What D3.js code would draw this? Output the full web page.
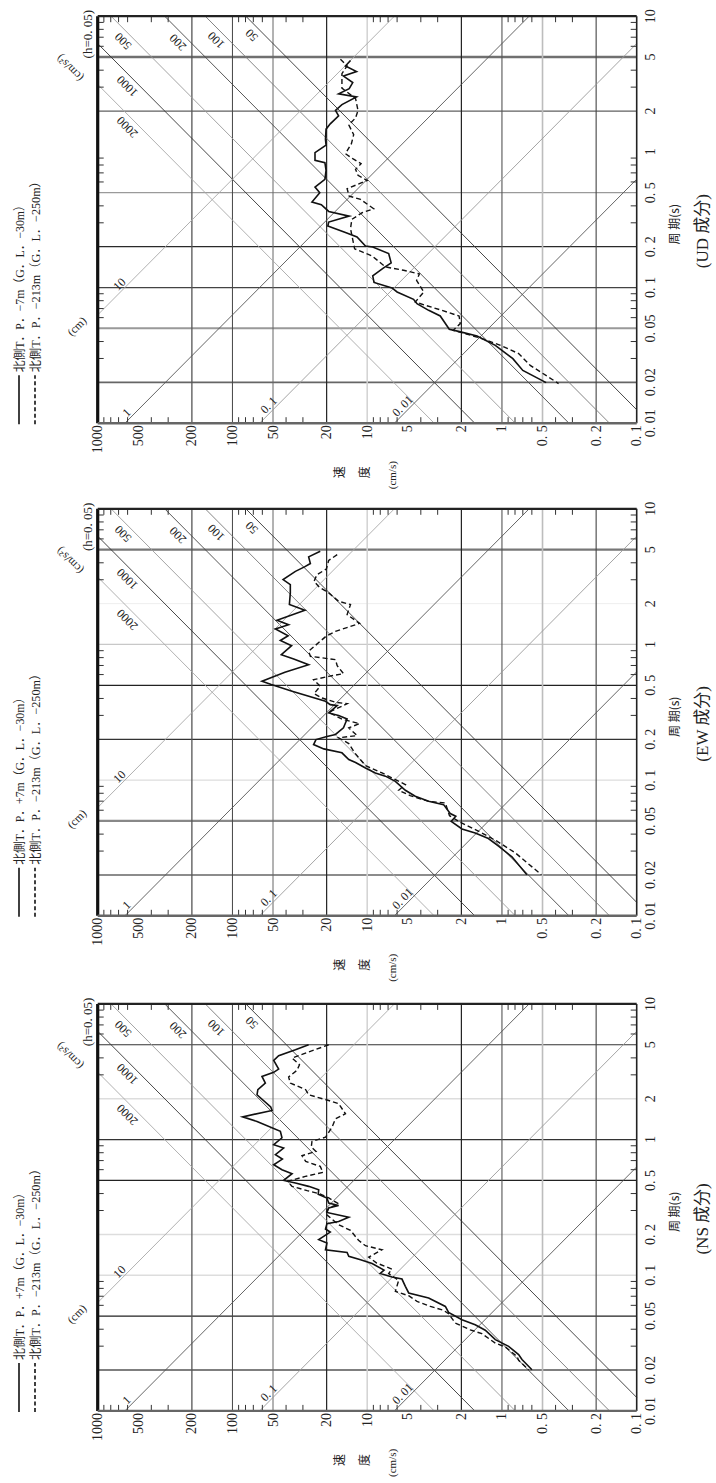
<!DOCTYPE html>
<html lang="ja">
<head>
<meta charset="utf-8">
<title>速度応答スペクトル</title>
<script src="https://cdn.jsdelivr.net/npm/d3@7/dist/d3.min.js"></script>
<style>
  html, body { margin: 0; padding: 0; background: #fff; }
  svg { display: block; }
  text { font-family: "Liberation Serif", "DejaVu Serif", "Noto Sans CJK JP", serif; fill: #222; }
  .cjk { font-family: "Noto Sans CJK JP", sans-serif; }
</style>
</head>
<body>
<svg id="chart" width="716" height="1483"></svg>
<script>
// ---------------- axis values ----------------
const periodTicks = [0.01, 0.02, 0.05, 0.1, 0.2, 0.5, 1, 2, 5, 10];
const periodTickLabels = ["0. 01", "0. 02", "0. 05", "0. 1", "0. 2", "0. 5", "1", "2", "5", "10"];
const velocityTicks = [1000, 500, 200, 100, 50, 20, 10, 5, 2, 1, 0.5, 0.2, 0.1];
const velocityTickLabels = ["1000", "500", "200", "100", "50", "20", "10", "5", "2", "1", "0. 5", "0. 2", "0. 1"];
const periodGrid = [5, 2, 1, 0.5, 0.2, 0.1, 0.05, 0.02];
const velocityGrid = [200, 100, 50, 20, 10, 2, 1, 0.5, 0.2];
const minorMultipliers = [3, 4, 6, 7, 8, 9];
const accelValues = [2000, 1000, 500, 200, 100, 50];          // cm/s^2
const accelLabels = ["2000", "1000", "500", "200", "100", "50"];
const dispValues = [10, 1, 0.1, 0.01];                       // cm
const dispLabels = ["10", "1", "0. 1", "0. 01"];

// ---------------- spectra (period s, velocity cm/s) ----------------
// NS component
const nsSolidPeriod = [5.00,4.59,4.15,3.83,3.31,3.13,2.92,2.61,2.33,2.14,1.74,1.64,1.47,1.36,1.15,1.03,0.916,0.866,0.773,0.718,0.652,0.599,0.560,0.500,0.478,0.452,0.427,0.396,0.371,0.340,0.327,0.313,0.290,0.268,0.249,0.240,0.219,0.208,0.183,0.173,0.154,0.147,0.138,0.130,0.122,0.109,0.103,0.097,0.0937,0.0828,0.0740,0.0679,0.0589,0.0532,0.0470,0.0432,0.0393,0.0335,0.0299,0.0260,0.0239,0.0201];
const nsSolidVel = [27.2,34.1,45.4,49.4,45.4,49.4,60.4,57.0,64.8,65.7,52.0,50.8,84,65.7,44.1,42.9,49.4,41.7,48.0,42.6,49.4,42.9,36.1,41.7,34.1,27.2,22.9,23.1,19.9,19.3,16.3,19.3,19.9,13.7,16.3,19.9,20.4,18.8,22.9,19.9,20.4,14.1,13.7,11.2,9.2,7.5,8.0,6.55,5.52,5.21,4.92,3.50,2.63,2.49,1.98,1.58,1.33,1.12,0.892,0.752,0.710,0.599];
const nsDashPeriod = [5.00,3.99,3.56,3.24,2.89,2.61,2.33,2.14,1.94,1.84,1.55,1.42,1.24,1.04,0.969,0.881,0.818,0.760,0.690,0.634,0.573,0.535,0.492,0.452,0.420,0.399,0.371,0.336,0.313,0.284,0.236,0.214,0.181,0.165,0.154,0.136,0.123,0.111,0.103,0.0916,0.0760,0.0706,0.0642,0.0589,0.0551,0.0520,0.0444,0.0396,0.0371,0.0316,0.0296,0.0252,0.0236,0.0201];
const nsDashVel = [19.3,36.1,31.8,33.2,38.3,37.2,28.6,27.2,19.3,16.3,14.5,17.2,18.2,20.4,25.7,26.0,24.0,30.5,28.6,22.3,21.3,28.8,39.0,36.1,27.9,22.6,19.3,16.3,19.3,20.4,16.3,13.3,11.6,10.3,7.76,9.75,8.5,6.55,6.93,5.84,6.18,4.92,4.27,3.40,2.71,2.49,2.22,1.72,1.41,1.12,0.944,0.774,0.752,0.634];

// EW component
const ewSolidPeriod = [4.86,4.42,3.95,3.73,3.46,3.01,2.76,2.40,1.97,1.79,1.51,1.40,1.30,1.16,1.07,0.98,0.841,0.782,0.710,0.623,0.535,0.506,0.452,0.381,0.360,0.354,0.313,0.299,0.282,0.243,0.217,0.210,0.199,0.183,0.170,0.159,0.142,0.135,0.123,0.113,0.107,0.098,0.0842,0.0760,0.0698,0.0660,0.0567,0.0542,0.0497,0.0437,0.0408,0.0371,0.0326,0.0272,0.0201];
const ewSolidVel = [22.3,27.2,26.4,29.2,34.1,42.1,37.2,37.2,37.8,29.0,46.7,38.3,48.0,38.6,44.1,36.4,43.4,35.1,27.2,40.8,60.4,51.5,36.1,20.4,18.8,16.7,19.3,16.3,14.1,15.0,17.2,19.9,24.0,25.0,21.0,15.4,13.7,12.2,10.3,8.7,7.33,6.18,5.21,4.40,3.50,2.71,2.42,2.20,2.38,1.98,1.58,1.26,1.06,0.843,0.653];
const ewDashPeriod = [4.59,4.17,3.60,3.27,2.92,2.65,2.40,2.08,1.97,1.66,1.43,1.25,1.15,0.891,0.818,0.773,0.698,0.610,0.582,0.550,0.492,0.434,0.403,0.375,0.366,0.316,0.282,0.261,0.243,0.213,0.205,0.186,0.159,0.128,0.113,0.0927,0.0842,0.0769,0.0698,0.0679,0.0547,0.0489,0.0408,0.0355,0.0291,0.0201];
const ewDashVel = [16.7,19.3,20.1,23.6,24.8,22.7,19.3,16.3,13.3,14.1,11.4,17.2,20.2,27.2,26.4,17.2,16.7,15.0,19.3,25.0,22.3,24.8,21.6,17.2,14.1,19.3,15.4,11.4,13.7,11.9,16.3,13.7,12.4,10.3,7.76,5.21,5.84,4.80,3.50,2.63,2.45,2.04,1.41,1.09,0.796,0.51];

// UD component
const udSolidPeriod = [4.72,4.30,3.91,3.62,3.24,2.92,2.68,2.54,2.23,2.02,1.84,1.61,1.47,1.24,1.12,0.986,0.866,0.832,0.731,0.627,0.550,0.500,0.427,0.408,0.364,0.336,0.304,0.284,0.254,0.236,0.202,0.199,0.178,0.152,0.139,0.122,0.109,0.0993,0.0927,0.0818,0.0760,0.0679,0.0617,0.0492,0.0475,0.0439,0.0375,0.0299,0.0245,0.0199];
const udSolidVel = [13.3,14.5,12.0,15.0,12.8,13.6,16.3,12.0,15.4,17.2,16.3,18.8,20.2,20.4,20.2,24.4,24.4,20.6,20.2,20.6,24.4,22.5,25.7,21.9,19.3,13.6,19.3,19.6,14.5,11.9,10.3,9.1,6.93,6.64,7.6,9.1,8.9,6.55,6.0,4.53,4.27,3.50,2.87,2.46,2.10,1.53,1.12,0.83,0.70,0.47];
const udDashPeriod = [4.81,4.30,3.77,2.95,2.47,2.02,1.78,1.58,1.34,1.15,0.969,0.891,0.818,0.743,0.671,0.616,0.535,0.472,0.446,0.381,0.356,0.318,0.272,0.193,0.183,0.171,0.142,0.134,0.126,0.113,0.0927,0.0782,0.0740,0.0679,0.0617,0.0542,0.0484,0.0450,0.0420,0.0380,0.0326,0.0267,0.0196];
const udDashVel = [15.8,14.1,15.4,15.4,12.2,11.7,12.2,13.7,12.6,13.1,14.5,12.8,11.1,12.2,11.7,10.0,14.1,13.6,11.2,8.95,10.9,13.0,13.3,12.4,10.9,9.2,7.33,5.37,4.1,4.3,3.80,4.40,3.70,2.79,2.08,2.04,2.30,1.77,1.41,1.06,0.752,0.617,0.38];

// legend texts
const legendNS = ["北側T．P．+7m（G．L．−30m）", "北側T．P．−213m（G．L．−250m）"];
const legendEW = ["北側T．P．+7m（G．L．−30m）", "北側T．P．−213m（G．L．−250m）"];
const legendUD = ["北側T．P．−7m（G．L．−30m）", "北側T．P．−213m（G．L．−250m）"];

// ---------------- layout & styles ----------------
const W = 407, H = 539;          // period span, velocity span (unrotated frame)
const LEFT = 97.7;               // screen x of the 1000 cm/s edge

const px = d3.scaleLog().domain([0.01, 10]).range([0, W]);
const pv = d3.scaleLog().domain([1000, 0.1]).range([0, H]);

const velocityGridStyle = {
  200: ["#555", 1.3], 100: ["#444", 1.0], 50: ["#666", 1.0], 20: ["#222", 1.2],
  10: ["#d2d2d2", 1.5], 2: ["#222", 1.2], 1: ["#555", 1.1], 0.5: ["#bdbdbd", 1.6], 0.2: ["#444", 1.1]
};
const accelStyle = { 2000: "#a8a8a8", 1000: "#333", 500: "#9a9a9a", 200: "#444", 100: "#777", 50: "#333" };
const dispStyle = { 10: "#a8a8a8", 1: "#555", 0.1: "#9a9a9a", 0.01: "#555" };
// label anchors along each line (period at which the label sits)
const accelLabelAt = { 2000: 1.52, 1000: 3.04, 500: 6.53, 200: 6.4, 100: 6.66, 50: 7.24 };
const dispLabelAt = { 10: 0.106, 1: 0.012, 0.1: 0.0136, 0.01: 0.0134 };

const panels = [
  {
    title: "(UD 成分)", bottom: 423.2, legend: legendUD,
    solid: [udSolidPeriod, udSolidVel], dashed: [udDashPeriod, udDashVel],
    periodGridStyle: [["#707070", 2.4], ["#606060", 1.3], null, ["#9a9a9a", 1.3], ["#2a2a2a", 1.2],
                      ["#444", 1.2], ["#999", 2.0], ["#666", 1.6]]
  },
  {
    title: "(EW 成分)", bottom: 915.8, legend: legendEW,
    solid: [ewSolidPeriod, ewSolidVel], dashed: [ewDashPeriod, ewDashVel],
    periodGridStyle: [["#777", 2.4], ["#eeeeee", 1.0], ["#c8c8c8", 1.2], ["#222", 1.2], ["#333", 1.2],
                      ["#dddddd", 1.2], ["#888", 2.2], ["#666", 1.6]]
  },
  {
    title: "(NS 成分)", bottom: 1410.9, legend: legendNS,
    solid: [nsSolidPeriod, nsSolidVel], dashed: [nsDashPeriod, nsDashVel],
    periodGridStyle: [["#333", 1.2], ["#dddddd", 1.5], ["#333", 1.2], ["#222", 1.3], ["#dddddd", 1.5],
                      ["#dddddd", 1.5], ["#222", 1.2], ["#555", 1.5]]
  }
];

const svg = d3.select("#chart");
svg.append("rect").attr("width", 716).attr("height", 1483).attr("fill", "#fff");

const curve = d3.line().x(d => px(d[0])).y(d => pv(d[1]));
const angleAccel = Math.atan2(pv(10) - pv(1), px(10) - px(1)) * 180 / Math.PI;   // v rises with T
const angleDisp = Math.atan2(pv(0.1) - pv(1), px(10) - px(1)) * 180 / Math.PI;   // v falls with T

function accelSegment(a) {        // Sv = Sa * T / (2π)
  const k = a / (2 * Math.PI);
  const t0 = Math.max(0.01, 0.1 / k), t1 = Math.min(10, 1000 / k);
  return [[t0, k * t0], [t1, k * t1]];
}
function dispSegment(d) {         // Sv = 2π * Sd / T
  const k = 2 * Math.PI * d;
  const t0 = Math.max(0.01, k / 1000), t1 = Math.min(10, k / 0.1);
  return [[t0, k / t0], [t1, k / t1]];
}

const minorPeriods = [];
[0.01, 0.1, 1].forEach(dec => minorMultipliers.forEach(m => minorPeriods.push(m * dec)));
const minorVelocities = [];
[0.1, 1, 10, 100].forEach(dec => minorMultipliers.forEach(m => minorVelocities.push(m * dec)));

panels.forEach(p => {
  // the chart is laid out with period along x and velocity along y, then turned a quarter turn
  const g = svg.append("g").attr("transform", `translate(${LEFT},${p.bottom}) rotate(-90)`);

  // grid: period lines
  const pg = periodGrid.map((t, i) => ({ t, s: p.periodGridStyle[i] })).filter(d => d.s);
  g.append("g").selectAll("line").data(pg).join("line")
    .attr("x1", d => px(d.t)).attr("x2", d => px(d.t)).attr("y1", 0).attr("y2", H)
    .attr("stroke", d => d.s[0]).attr("stroke-width", d => d.s[1]);

  // grid: velocity lines
  g.append("g").selectAll("line").data(velocityGrid).join("line")
    .attr("x1", 0).attr("x2", W).attr("y1", d => pv(d)).attr("y2", d => pv(d))
    .attr("stroke", d => velocityGridStyle[d][0]).attr("stroke-width", d => velocityGridStyle[d][1]);

  // constant acceleration lines
  g.append("g").selectAll("path").data(accelValues).join("path")
    .attr("d", d => curve(accelSegment(d)))
    .attr("fill", "none").attr("stroke", d => accelStyle[d]).attr("stroke-width", 0.9);

  // constant displacement lines
  g.append("g").selectAll("path").data(dispValues).join("path")
    .attr("d", d => curve(dispSegment(d)))
    .attr("fill", "none").attr("stroke", d => dispStyle[d]).attr("stroke-width", 0.9);

  // labels on acceleration lines
  g.append("g").selectAll("text").data(accelValues).join("text")
    .attr("transform", d => {
      const t = accelLabelAt[d], v = d * t / (2 * Math.PI);
      return `translate(${px(t)},${pv(v) - 13}) rotate(${angleAccel})`;
    })
    .attr("text-anchor", "middle").attr("dominant-baseline", "central")
    .attr("font-size", 12).text((d, i) => accelLabels[i]);

  // labels on displacement lines
  g.append("g").selectAll("text").data(dispValues).join("text")
    .attr("transform", d => {
      const t = dispLabelAt[d], v = 2 * Math.PI * d / t;
      return `translate(${px(t)},${pv(v) - 9}) rotate(${angleDisp})`;
    })
    .attr("text-anchor", "middle").attr("dominant-baseline", "central")
    .attr("font-size", 12).text((d, i) => dispLabels[i]);

  // unit notes
  g.append("text").attr("transform", `translate(97,-21) rotate(${angleDisp})`)
    .attr("text-anchor", "middle").attr("dominant-baseline", "central")
    .attr("font-size", 11.5).text("(cm)");
  g.append("text").attr("transform", `translate(355,-28) rotate(${angleAccel})`)
    .attr("text-anchor", "middle").attr("dominant-baseline", "central")
    .attr("font-size", 11.5).text("(cm/s²)");
  g.append("text").attr("x", 389).attr("y", -6).attr("text-anchor", "middle")
    .attr("font-size", 13).text("(h=0. 05)");

  // minor ticks on the four sides
  const tk = 6;
  const tg = g.append("g").attr("stroke", "#333").attr("stroke-width", 1);
  minorPeriods.forEach(t => {
    tg.append("line").attr("x1", px(t)).attr("x2", px(t)).attr("y1", 0).attr("y2", tk);
    tg.append("line").attr("x1", px(t)).attr("x2", px(t)).attr("y1", H).attr("y2", H - tk);
  });
  minorVelocities.forEach(v => {
    tg.append("line").attr("x1", 0).attr("x2", tk).attr("y1", pv(v)).attr("y2", pv(v));
    tg.append("line").attr("x1", W).attr("x2", W - tk).attr("y1", pv(v)).attr("y2", pv(v));
  });

  // frame
  g.append("line").attr("x1", 0).attr("x2", W).attr("y1", 0).attr("y2", 0).attr("stroke", "#111").attr("stroke-width", 3.2);
  g.append("line").attr("x1", 0).attr("x2", W).attr("y1", H).attr("y2", H).attr("stroke", "#222").attr("stroke-width", 1.6);
  g.append("line").attr("x1", W).attr("x2", W).attr("y1", 0).attr("y2", H).attr("stroke", "#222").attr("stroke-width", 2.2);
  g.append("line").attr("x1", 0).attr("x2", 0).attr("y1", 0).attr("y2", H).attr("stroke", "#666").attr("stroke-width", 2.4);

  // spectra
  const pairs = arr => arr[0].map((t, i) => [t, arr[1][i]]);
  g.append("path").attr("d", curve(pairs(p.dashed)))
    .attr("fill", "none").attr("stroke", "#111").attr("stroke-width", 1.4).attr("stroke-dasharray", "5,3");
  g.append("path").attr("d", curve(pairs(p.solid)))
    .attr("fill", "none").attr("stroke", "#111").attr("stroke-width", 1.6);

  // period axis labels
  g.append("g").selectAll("text").data(periodTicks).join("text")
    .attr("x", d => px(d)).attr("y", H + 18).attr("text-anchor", "middle")
    .attr("font-size", 14).text((d, i) => periodTickLabels[i]);
  g.append("text").attr("x", 199).attr("y", H + 42).attr("text-anchor", "middle")
    .attr("class", "cjk").attr("font-size", 12).text("周 期(s)");
  g.append("text").attr("x", 192).attr("y", H + 71).attr("text-anchor", "middle")
    .attr("font-size", 17).text(p.title);

  // velocity axis labels
  g.append("g").selectAll("text").data(velocityTicks).join("text")
    .attr("x", -2).attr("y", d => pv(d) + 4.5).attr("text-anchor", "end")
    .attr("font-size", 14).text((d, i) => velocityTickLabels[i]);
  g.append("text").attr("x", -49).attr("y", 246).attr("text-anchor", "middle")
    .attr("class", "cjk").attr("font-size", 12).text("速");
  g.append("text").attr("x", -49).attr("y", 271).attr("text-anchor", "middle")
    .attr("class", "cjk").attr("font-size", 12).text("度");
  g.append("text").attr("x", -52).attr("y", 298).attr("text-anchor", "middle")
    .attr("font-size", 11).text("(cm/s)");

  // legend
  g.append("line").attr("x1", -1).attr("x2", 48).attr("y1", -78.7).attr("y2", -78.7)
    .attr("stroke", "#111").attr("stroke-width", 1.6);
  g.append("line").attr("x1", -1).attr("x2", 48).attr("y1", -62.7).attr("y2", -62.7)
    .attr("stroke", "#111").attr("stroke-width", 1.6).attr("stroke-dasharray", "4,2.5");
  g.append("text").attr("x", 51).attr("y", -73.5).attr("font-size", 12)
    .attr("textLength", 173).attr("lengthAdjust", "spacingAndGlyphs").text(p.legend[0]);
  g.append("text").attr("x", 51).attr("y", -57.5).attr("font-size", 12)
    .attr("textLength", 197).attr("lengthAdjust", "spacingAndGlyphs").text(p.legend[1]);
});
</script>
</body>
</html>
